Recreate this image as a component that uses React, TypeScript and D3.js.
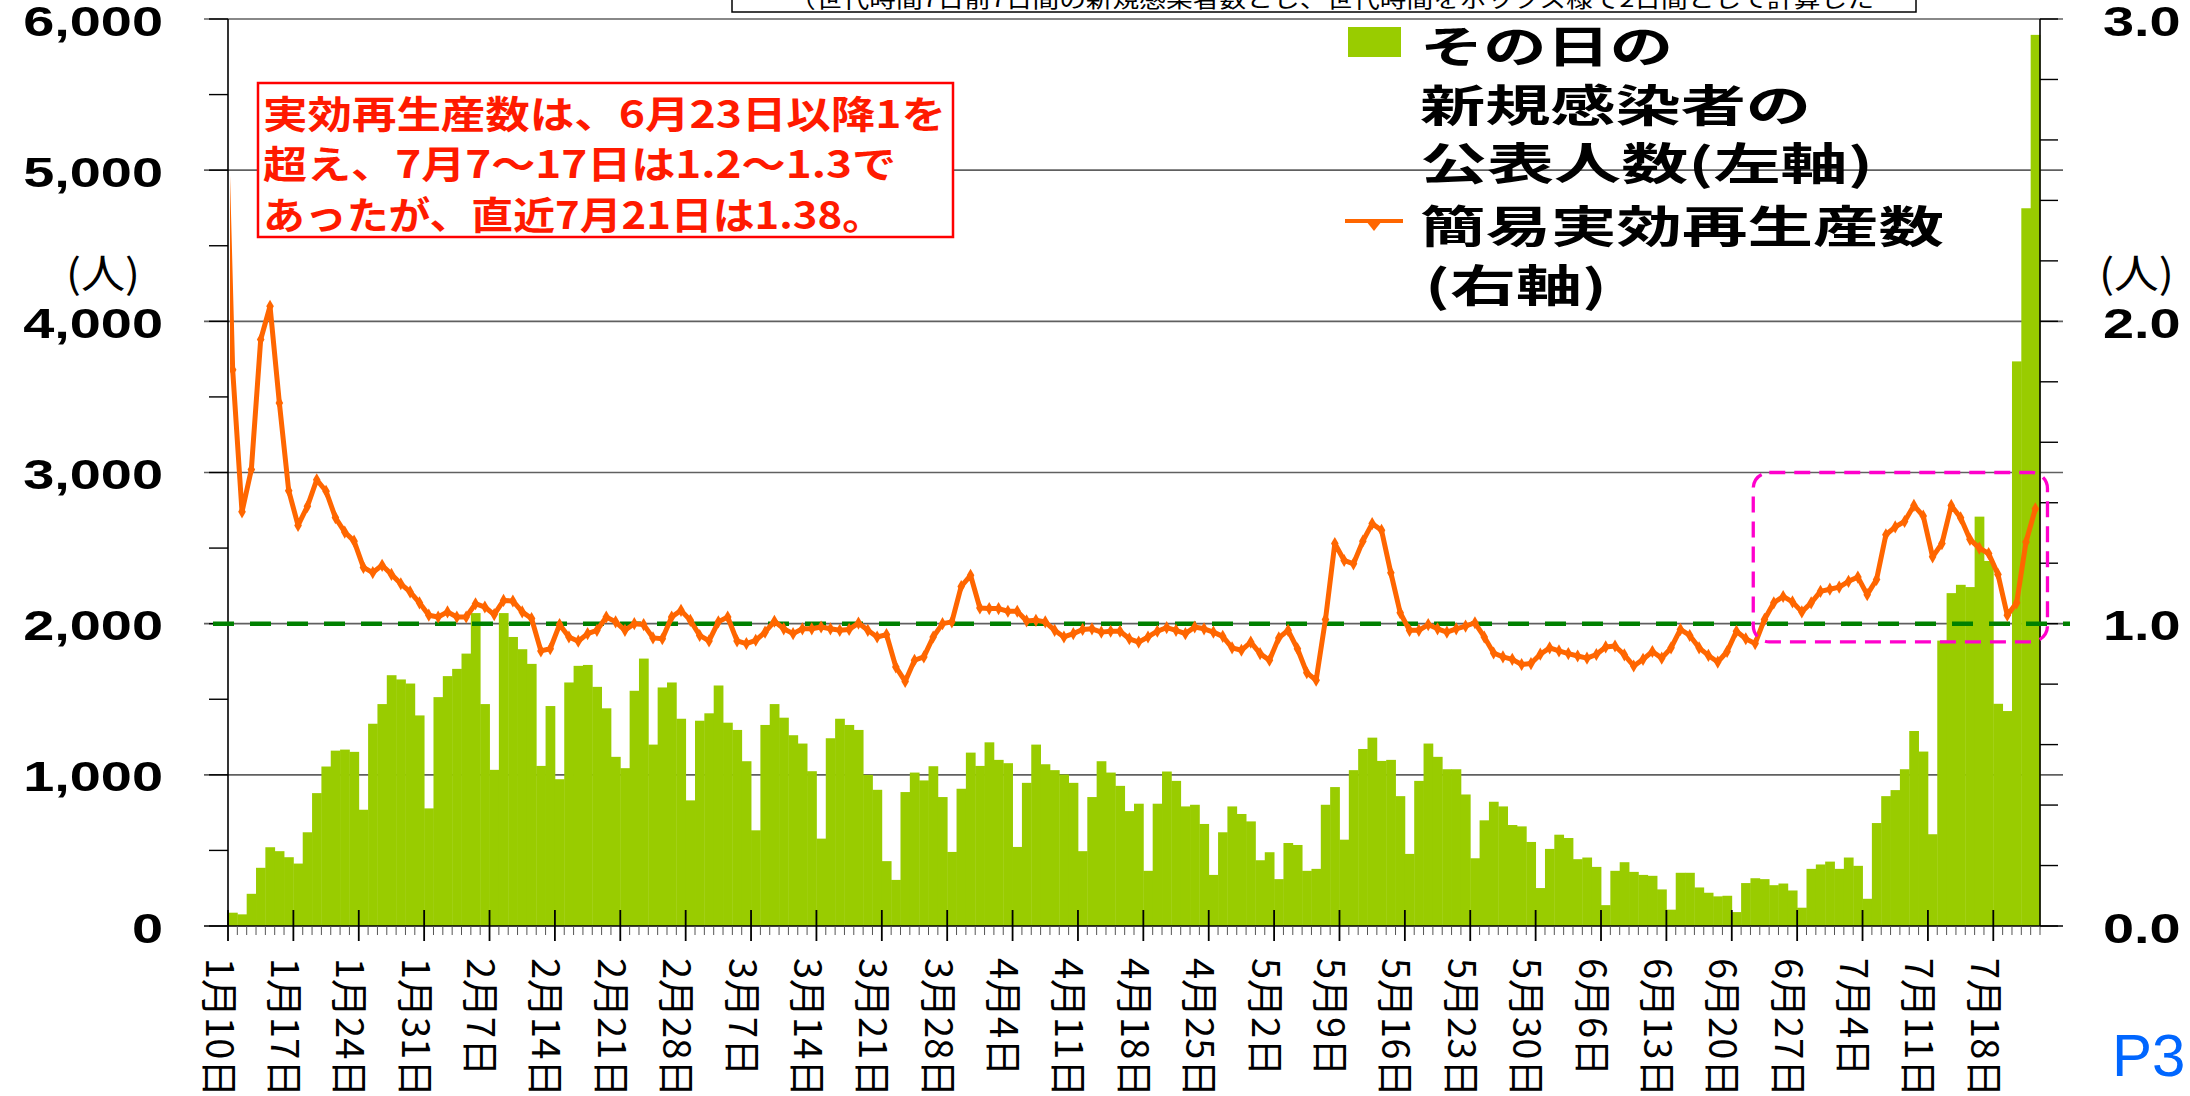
import * as d3 from "d3"

// x tick labels, one per week starting 1月10日
const weekLabels = [
  "1月10日", "1月17日", "1月24日", "1月31日", "2月7日", "2月14日", "2月21日", "2月28日",
  "3月7日", "3月14日", "3月21日", "3月28日", "4月4日", "4月11日", "4月18日", "4月25日",
  "5月2日", "5月9日", "5月16日", "5月23日", "5月30日", "6月6日", "6月13日", "6月20日",
  "6月27日", "7月4日", "7月11日", "7月18日",
]

// その日の新規感染者の公表人数 (1月10日 .. 7月22日)
const newCases = [
  88, 77, 213, 385, 521, 495, 455, 413, 620, 879, 1055, 1160, 1167, 1152, 769, 1338,
  1468, 1659, 1631, 1604, 1393, 778, 1514, 1653, 1701, 1802, 2070, 1468, 1033, 2070,
  1912, 1831, 1734, 1059, 1455, 971, 1611, 1721, 1727, 1582, 1440, 1119, 1044, 1556,
  1769, 1200, 1578, 1611, 1371, 831, 1358, 1407, 1591, 1345, 1297, 1090, 633, 1330,
  1468, 1378, 1262, 1207, 1024, 578, 1242, 1371, 1330, 1297, 1000, 901, 429, 305,
  886, 1015, 963, 1057, 853, 490, 908, 1147, 1059, 1215, 1099, 1077, 523, 947,
  1200, 1070, 1031, 1002, 947, 495, 853, 1090, 1015, 927, 760, 809, 365, 809,
  1022, 960, 791, 802, 675, 338, 620, 791, 741, 692, 435, 488, 310, 549,
  536, 365, 378, 802, 919, 571, 1031, 1171, 1246, 1092, 1099, 859, 477, 960,
  1207, 1119, 1037, 1037, 870, 448, 699, 822, 791, 668, 659, 556, 251, 510,
  604, 582, 442, 453, 391, 138, 365, 422, 358, 338, 332, 242, 108, 352,
  352, 255, 220, 196, 200, 92, 284, 316, 310, 270, 281, 235, 121, 378,
  407, 426, 378, 453, 398, 180, 681, 859, 899, 1037, 1290, 1154, 607, 1888,
  2202, 2257, 2242, 2708, 2415, 1470, 1422, 3735, 4748, 5895,
]

// 簡易実効再生産数; first entry is 1月9日 (just left of the plot, clipped)
const rValues = [
  3.0,
  1.84, 1.37, 1.51, 1.94, 2.05, 1.73, 1.44, 1.325, 1.388, 1.476, 1.438, 1.351, 1.303, 1.273,
  1.186, 1.169, 1.193, 1.163, 1.132, 1.105, 1.069, 1.028, 1.022, 1.039, 1.022, 1.022, 1.066, 1.055,
  1.03, 1.077, 1.075, 1.039, 1.017, 0.91, 0.917, 0.997, 0.956, 0.942, 0.967, 0.978, 1.022, 1.006,
  0.978, 1.0, 0.997, 0.953, 0.95, 1.022, 1.044, 1.011, 0.961, 0.943, 1.006, 1.022, 0.943, 0.934,
  0.945, 0.972, 1.008, 0.983, 0.967, 0.983, 0.983, 0.989, 0.983, 0.978, 0.981, 1.002, 0.978, 0.956,
  0.964, 0.857, 0.809, 0.879, 0.89, 0.956, 1.0, 1.006, 1.123, 1.16, 1.052, 1.05, 1.05, 1.041,
  1.041, 1.009, 1.011, 1.006, 0.978, 0.956, 0.967, 0.981, 0.983, 0.972, 0.975, 0.975, 0.95, 0.939,
  0.956, 0.975, 0.987, 0.978, 0.967, 0.989, 0.983, 0.972, 0.958, 0.92, 0.912, 0.939, 0.901, 0.879,
  0.953, 0.978, 0.917, 0.838, 0.813, 1.014, 1.265, 1.209, 1.198, 1.273, 1.331, 1.309, 1.168, 1.036,
  0.978, 0.978, 0.997, 0.983, 0.972, 0.983, 0.992, 1.003, 0.956, 0.903, 0.89, 0.882, 0.865, 0.868,
  0.899, 0.92, 0.91, 0.901, 0.893, 0.886, 0.898, 0.923, 0.926, 0.897, 0.86, 0.882, 0.908, 0.886,
  0.92, 0.981, 0.961, 0.92, 0.895, 0.873, 0.908, 0.975, 0.95, 0.934, 1.014, 1.069, 1.09, 1.072,
  1.039, 1.069, 1.107, 1.114, 1.121, 1.14, 1.154, 1.096, 1.146, 1.294, 1.32, 1.338, 1.391, 1.356,
  1.221, 1.265, 1.391, 1.35, 1.279, 1.25, 1.232, 1.163, 1.028, 1.069, 1.27, 1.38,
]

const caseTicks = d3.range(0, 6001, 500)
const caseLabels = d3.range(0, 6001, 1000)
const rTicks = d3.range(0, 3.01, 0.2)
const rLabels = [0, 1, 2, 3]

// pink dashed highlight (in data units)
const highlightDays = [163.3, 194.8]
const highlightR = [0.94, 1.5]

const noteLines = [
  "実効再生産数は、6月23日以降1を",
  "超え、7月7～17日は1.2～1.3で",
  "あったが、直近7月21日は1.38。",
]
const legendCases = ["その日の", "新規感染者の", "公表人数(左軸)"]
const legendR = ["簡易実効再生産数", "(右軸)"]

const W = 2190
const H = 1096
const P = { left: 228, right: 2040, top: 19, bottom: 926 }
const JP = "'Noto Sans CJK JP', 'Noto Sans', sans-serif"
const NUM = "'Liberation Sans', Arial, sans-serif"
const ORANGE = "#ff6600"

const FitText = ({ x, y, w, size, fill = "#000", weight = "normal", children }: any) => (
  <text x={x} y={y} textLength={w} lengthAdjust="spacingAndGlyphs" dominantBaseline="central"
    fontFamily={JP} fontSize={size} fontWeight={weight} fill={fill}>{children}</text>
)

export default function App() {
  const xDay = d3.scaleLinear().domain([0, newCases.length]).range([P.left, P.right])
  const yCases = d3.scaleLinear().domain([0, 6000]).range([P.bottom, P.top])
  const yR = d3.scaleLinear().domain([0, 3]).range([P.bottom, P.top])

  const rPoints = rValues.map((v, k) => [xDay(k - 1 + 0.5), yR(v)] as [number, number])
  const linePath = d3.line()(rPoints) as string
  const diamond = d3.symbol(d3.symbolDiamond, 50)() as string

  const hx0 = xDay(highlightDays[0]), hx1 = xDay(highlightDays[1])
  const hy0 = yR(highlightR[1]), hy1 = yR(highlightR[0])

  return (
    <svg width={W} height={H} style={{ position: "absolute", left: 0, top: 0, background: "#fff" }}>
      <defs>
        <clipPath id="plotClip">
          <rect x={P.left + 2} y={P.top - 10} width={P.right - P.left + 10} height={P.bottom - P.top + 10} />
        </clipPath>
      </defs>

      {/* top note box, cut off by the page edge */}
      <rect x={732} y={-20} width={1184} height={32} fill="#fff" stroke="#000" strokeWidth={1.5} />
      <FitText x={789} y={-3} w={1085} size={22}>（世代時間7日前7日間の新規感染者数とし、世代時間をボックス様で2日間として計算した</FitText>

      {/* gridlines */}
      {caseLabels.filter(v => v > 0).map(v => (
        <line key={v} x1={204} x2={2063} y1={yCases(v)} y2={yCases(v)} stroke="#606060" strokeWidth={1.6} />
      ))}

      {/* bars */}
      {newCases.map((v, i) => (
        <rect key={i} x={xDay(i)} width={xDay(i + 1) - xDay(i) + 0.4} y={yCases(v)}
          height={yCases(0) - yCases(v)} fill="#99cc00" />
      ))}

      {/* x axis */}
      <line x1={204} x2={2063} y1={P.bottom} y2={P.bottom} stroke="#000" strokeWidth={1.6} />
      {d3.range(0, newCases.length + 1).map(i => (
        i % 7 === 0
          ? <line key={i} x1={xDay(i)} x2={xDay(i)} y1={910} y2={941} stroke="#000" strokeWidth={1.8} />
          : <line key={i} x1={xDay(i)} x2={xDay(i)} y1={P.bottom} y2={935} stroke="#555" strokeWidth={1} />
      ))}
      {weekLabels.map((t, k) => (
        <text key={t} transform={`translate(${xDay(k * 7) - 6},958) rotate(90)`} dominantBaseline="central"
          fontFamily={JP} fontSize={38} fill="#000">{t}</text>
      ))}

      {/* left axis */}
      <line x1={P.left} x2={P.left} y1={P.top} y2={P.bottom} stroke="#000" strokeWidth={1.6} />
      {caseTicks.map(v => (
        <line key={v} x1={209} x2={P.left} y1={yCases(v)} y2={yCases(v)} stroke="#000" strokeWidth={1.4} />
      ))}
      {caseLabels.map(v => (
        <g key={v} transform={`translate(163,${yCases(v) + 2}) scale(1.3,1)`}>
          <text textAnchor="end" dominantBaseline="central" fontFamily={NUM} fontSize={43}
            fontWeight="bold" fill="#000">{d3.format(",")(v)}</text>
        </g>
      ))}
      <FitText x={66} y={271} w={74} size={40}>(人)</FitText>

      {/* right axis */}
      <line x1={P.right} x2={P.right} y1={P.top} y2={P.bottom} stroke="#000" strokeWidth={1.6} />
      {rTicks.map(v => (
        <line key={v} x1={P.right} x2={2058} y1={yR(v)} y2={yR(v)} stroke="#000" strokeWidth={1.4} />
      ))}
      {rLabels.map(v => (
        <g key={v} transform={`translate(2103,${yR(v) + 2}) scale(1.3,1)`}>
          <text dominantBaseline="central" fontFamily={NUM} fontSize={43} fontWeight="bold"
            fill="#000">{d3.format(".1f")(v)}</text>
        </g>
      ))}
      <FitText x={2099} y={271} w={75} size={40}>(人)</FitText>

      {/* R = 1 reference */}
      <line x1={213} x2={2070} y1={yR(1)} y2={yR(1)} stroke="#008000" strokeWidth={4.5} strokeDasharray="21 16" />

      {/* R line */}
      <g clipPath="url(#plotClip)">
        <path d={linePath} fill="none" stroke={ORANGE} strokeWidth={5} strokeLinejoin="round" />
        {rPoints.map(([x, y], k) => (
          <path key={k} d={diamond} transform={`translate(${x},${y})`} fill={ORANGE} />
        ))}
      </g>

      {/* highlight */}
      <rect x={hx0} y={hy0} width={hx1 - hx0} height={hy1 - hy0} rx={16} fill="none"
        stroke="#ff00cc" strokeWidth={3.3} strokeDasharray="16 9" />

      {/* annotation */}
      <rect x={258} y={83} width={695} height={154} fill="#fff" stroke="#ff0000" strokeWidth={2.5} />
      {noteLines.map((t, k) => (
        <FitText key={t} x={263} y={111 + k * 50.5} w={[683, 633, 621][k]} size={38} weight="bold"
          fill="#ff1a00">{t}</FitText>
      ))}

      {/* legend */}
      <rect x={1348} y={27} width={53} height={30} fill="#99cc00" />
      {legendCases.map((t, k) => (
        <FitText key={t} x={1420} y={[44, 103, 161][k]} w={[253, 391, 453][k]} size={44} weight="bold">{t}</FitText>
      ))}
      <line x1={1345} x2={1403} y1={221} y2={221} stroke={ORANGE} strokeWidth={4} />
      <path d="M1366,221 L1382,221 L1374,231 Z" fill={ORANGE} />
      {legendR.map((t, k) => (
        <FitText key={t} x={k ? 1425 : 1420} y={[224, 283][k]} w={[524, 182][k]} size={44} weight="bold">{t}</FitText>
      ))}

      <text x={2112} y={1055} dominantBaseline="central" fontFamily={NUM} fontSize={60} fill="#0066ff">P3</text>
    </svg>
  )
}
